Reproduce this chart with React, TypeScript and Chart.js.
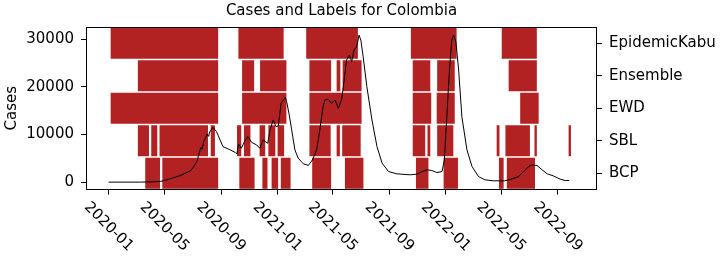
import { useEffect, useRef } from "react";
import { Chart, registerables } from "chart.js";

Chart.register(...registerables);

// Detection methods, top to bottom on the right-hand axis
const rowLabels = ["EpidemicKabu", "Ensemble", "EWD", "SBL", "BCP"];

// Smoothed daily COVID-19 cases in Colombia
const caseDates = [
  "2020-01-01", "2020-03-10", "2020-04-05", "2020-04-23", "2020-05-14", "2020-06-05",
  "2020-06-27", "2020-07-04", "2020-07-11", "2020-07-19", "2020-07-22", "2020-07-25",
  "2020-08-02", "2020-08-05", "2020-08-07", "2020-08-14", "2020-08-22", "2020-08-29",
  "2020-09-05", "2020-09-20", "2020-10-02", "2020-10-05", "2020-10-09", "2020-10-15",
  "2020-10-21", "2020-10-29", "2020-11-06", "2020-11-17", "2020-11-24", "2020-12-01",
  "2020-12-06", "2020-12-11", "2020-12-16", "2020-12-23", "2020-12-29", "2021-01-03",
  "2021-01-09", "2021-01-18", "2021-01-21", "2021-01-26", "2021-02-01", "2021-02-08",
  "2021-02-15", "2021-02-26", "2021-03-09", "2021-03-18", "2021-03-27", "2021-04-03",
  "2021-04-10", "2021-04-14", "2021-04-21", "2021-04-28", "2021-05-06", "2021-05-13",
  "2021-05-20", "2021-05-24", "2021-05-31", "2021-06-06", "2021-06-11", "2021-06-16",
  "2021-06-22", "2021-06-27", "2021-07-01", "2021-07-06", "2021-07-14", "2021-07-25",
  "2021-08-05", "2021-08-16", "2021-08-30", "2021-09-17", "2021-10-16", "2021-10-31",
  "2021-11-11", "2021-11-22", "2021-12-02", "2021-12-13", "2021-12-24", "2021-12-29",
  "2022-01-03", "2022-01-09", "2022-01-14", "2022-01-18", "2022-01-23", "2022-01-29",
  "2022-02-05", "2022-02-16", "2022-02-27", "2022-03-13", "2022-03-27", "2022-04-14",
  "2022-05-09", "2022-05-24", "2022-06-08", "2022-06-19", "2022-06-30", "2022-07-07",
  "2022-07-18", "2022-07-29", "2022-08-09", "2022-08-22", "2022-09-06", "2022-09-17",
  "2022-09-26",
];
const caseValues = [
  0, 0, 60, 150, 700, 1400,
  2400, 3300, 4500, 7300, 6900, 8400,
  10100, 9600, 10500, 11500, 10600, 9000,
  7450, 6800, 6200, 5900, 7950, 7100,
  8400, 9550, 8350, 7800, 7100, 8850,
  8500, 8150, 10950, 13050, 11650, 11800,
  16550, 17800, 16900, 14450, 10950, 6750,
  5050, 3850, 3500, 4650, 6750, 10950,
  15830, 17230, 17440, 16540, 17230, 15490,
  17230, 20020, 25610, 26660, 25250, 27700,
  28400, 30840, 29800, 26300, 20020, 13050,
  7450, 3980, 2220, 1740, 1530, 1675,
  2220, 2575, 2430, 2010, 2220, 4670,
  13050, 23520, 29800, 30840, 29440, 23520,
  13740, 6760, 3270, 1170, 480, 270,
  270, 630, 1170, 2220, 3270, 3620,
  3480, 2575, 1740, 1320, 630, 335,
  335,
];

// Wave periods flagged by each method: [start, end]
const epidemicKabuSpans: [string, string][] = [
  ["2020-01-04", "2020-08-27"], ["2020-10-07", "2021-01-16"], ["2021-03-03", "2021-06-26"],
  ["2021-10-16", "2022-01-26"], ["2022-05-01", "2022-07-19"],
];
const ensembleSpans: [string, string][] = [
  ["2020-03-03", "2020-08-27"], ["2020-10-15", "2020-11-13"], ["2020-11-23", "2021-01-22"],
  ["2021-03-10", "2021-04-29"], ["2021-05-08", "2021-05-19"], ["2021-05-21", "2021-07-04"],
  ["2021-10-20", "2021-11-30"], ["2021-12-12", "2022-01-22"], ["2022-05-16", "2022-07-19"],
];
const ewdSpans: [string, string][] = [
  ["2020-01-04", "2020-08-27"], ["2020-10-15", "2021-01-22"], ["2021-03-10", "2021-07-04"],
  ["2021-10-20", "2021-12-02"], ["2021-12-11", "2022-01-22"], ["2022-06-10", "2022-07-23"],
];
const sblSpans: [string, string][] = [
  ["2020-03-03", "2020-03-30"], ["2020-04-01", "2020-04-17"], ["2020-04-19", "2020-08-05"],
  ["2020-08-08", "2020-08-20"], ["2020-10-04", "2020-10-16"], ["2020-10-19", "2020-11-05"],
  ["2020-11-22", "2020-12-07"], ["2020-12-11", "2020-12-29"], ["2020-12-31", "2021-01-17"],
  ["2021-03-10", "2021-04-28"], ["2021-05-08", "2021-05-18"], ["2021-05-20", "2021-07-02"],
  ["2021-10-20", "2021-11-19"], ["2021-11-21", "2021-11-30"], ["2021-12-12", "2022-01-19"],
  ["2022-04-20", "2022-04-29"], ["2022-05-09", "2022-07-04"], ["2022-07-11", "2022-07-19"],
  ["2022-09-23", "2022-10-01"],
];
const bcpSpans: [string, string][] = [
  ["2020-03-19", "2020-04-23"], ["2020-04-25", "2020-08-27"], ["2020-10-09", "2020-11-14"],
  ["2020-11-28", "2020-12-12"], ["2020-12-18", "2021-01-04"], ["2021-01-07", "2021-01-31"],
  ["2021-03-16", "2021-04-29"], ["2021-05-26", "2021-07-08"], ["2021-10-27", "2021-11-26"],
  ["2021-12-26", "2022-01-29"], ["2022-04-25", "2022-05-08"], ["2022-05-12", "2022-07-15"],
];

const xTickDates = [
  "2020-01-01", "2020-05-01", "2020-09-01", "2021-01-01", "2021-05-01",
  "2021-09-01", "2022-01-01", "2022-05-01", "2022-09-01",
];
const xTickLabels = [
  "2020-01", "2020-05", "2020-09", "2021-01", "2021-05",
  "2021-09", "2022-01", "2022-05", "2022-09",
];
const yTicks = [0, 10000, 20000, 30000];

const FONT_FAMILY = '"DejaVu Sans", "Liberation Sans", sans-serif';
const FONT_SIZE = 15;
const BAR_COLOR = "#b22222";

const EPOCH = Date.UTC(2020, 0, 1);
function dayOf(date: string): number {
  const [y, m, d] = date.split("-").map(Number);
  return (Date.UTC(y, m - 1, d) - EPOCH) / 86400000;
}

// Draws the axes frame and the slanted date labels under the x axis
const frameAndDates = {
  id: "frameAndDates",
  afterDraw(chart: any) {
    const { ctx, chartArea: a, scales } = chart;
    ctx.save();
    ctx.strokeStyle = "#000";
    ctx.lineWidth = 1;
    const l = Math.floor(a.left) + 0.5;
    const t = Math.floor(a.top) + 0.5;
    const r = Math.floor(a.right) - 0.5;
    const b = Math.floor(a.bottom) + 0.5;
    ctx.strokeRect(l, t, r - l, b - t);

    const xs = scales.x;
    ctx.font = `${FONT_SIZE}px ${FONT_FAMILY}`;
    ctx.fillStyle = "#000";
    ctx.textAlign = "center";
    ctx.textBaseline = "middle";
    xs.ticks.forEach((tick: any, i: number) => {
      const label = xTickLabels[i];
      const w = ctx.measureText(label).width;
      const px = xs.getPixelForValue(tick.value);
      const cy = a.bottom + 10 + (w + FONT_SIZE) / (2 * Math.SQRT2);
      ctx.save();
      ctx.translate(px, cy);
      ctx.rotate(Math.PI / 4);
      ctx.fillText(label, 0, 0);
      ctx.restore();
    });
    ctx.restore();
  },
};

export default function App() {
  const canvasRef = useRef<HTMLCanvasElement | null>(null);

  useEffect(() => {
    document.body.style.margin = "0";
    const canvas = canvasRef.current;
    if (!canvas) return;

    const rowSpans = [epidemicKabuSpans, ensembleSpans, ewdSpans, sblSpans, bcpSpans];
    const maxSpans = Math.max(...rowSpans.map((r) => r.length));
    const barSets: any[] = [];
    for (let k = 0; k < maxSpans; k++) {
      barSets.push({
        type: "bar",
        indexAxis: "y",
        xAxisID: "x",
        yAxisID: "y2",
        data: rowSpans.map((r) => (r[k] ? [dayOf(r[k][0]), dayOf(r[k][1])] : null)),
        backgroundColor: BAR_COLOR,
        borderColor: "#ffffff",
        borderWidth: 1,
        borderSkipped: false,
        barPercentage: 1,
        categoryPercentage: 1,
        grouped: false,
        order: 1,
      });
    }

    const caseLine = {
      type: "line",
      xAxisID: "x",
      yAxisID: "y",
      data: caseDates.map((d, i) => ({ x: dayOf(d), y: caseValues[i] })),
      borderColor: "#000000",
      borderWidth: 1,
      pointRadius: 0,
      tension: 0,
      fill: false,
      order: 0,
    };

    const font = { family: FONT_FAMILY, size: FONT_SIZE };

    const chart = new Chart(canvas, {
      type: "bar",
      data: { datasets: [caseLine, ...barSets] as any },
      options: {
        responsive: false,
        animation: false,
        devicePixelRatio: 1,
        layout: { padding: 0 },
        plugins: {
          legend: { display: false },
          tooltip: { enabled: false },
          title: {
            display: true,
            text: "Cases and Labels for Colombia",
            color: "#000",
            font: { ...font, weight: "normal" },
            padding: { top: 2, bottom: 7 },
            fullSize: false,
          },
        },
        scales: {
          x: {
            type: "linear",
            position: "bottom",
            min: dayOf("2019-11-13"),
            max: dayOf("2022-11-25"),
            offset: false,
            grid: {
              display: true,
              drawOnChartArea: false,
              drawTicks: true,
              tickLength: 5,
              color: "#000",
              lineWidth: 1,
              offset: false,
            },
            border: { display: false },
            ticks: { display: false },
            afterBuildTicks: (s: any) => {
              s.ticks = xTickDates.map((d) => ({ value: dayOf(d) }));
            },
            afterFit: (s: any) => {
              s.height = 68.5;
            },
          },
          y: {
            type: "linear",
            position: "left",
            min: -1550,
            max: 32550,
            grid: {
              display: true,
              drawOnChartArea: false,
              drawTicks: true,
              tickLength: 5,
              color: "#000",
              lineWidth: 1,
            },
            border: { display: false },
            ticks: {
              color: "#000",
              font,
              padding: 7,
              callback: (v: any) => String(v),
            },
            title: {
              display: true,
              text: "Cases",
              color: "#000",
              font,
              padding: { top: 3, bottom: 0 },
            },
            afterBuildTicks: (s: any) => {
              s.ticks = yTicks.map((v) => ({ value: v }));
            },
            afterFit: (s: any) => {
              s.width = 86;
            },
          },
          y2: {
            type: "category",
            position: "right",
            labels: rowLabels,
            offset: true,
            grid: {
              display: true,
              drawOnChartArea: false,
              drawTicks: true,
              tickLength: 5,
              color: "#000",
              lineWidth: 1,
              offset: false,
            },
            border: { display: false },
            ticks: { color: "#000", font, padding: 7, autoSkip: false },
            afterFit: (s: any) => {
              s.width = 127;
            },
          },
        },
      } as any,
      plugins: [frameAndDates],
    });

    return () => chart.destroy();
  }, []);

  return (
    <div style={{ width: 724, height: 258 }}>
      <canvas ref={canvasRef} width={724} height={258} style={{ width: 724, height: 258, display: "block" }} />
    </div>
  );
}
